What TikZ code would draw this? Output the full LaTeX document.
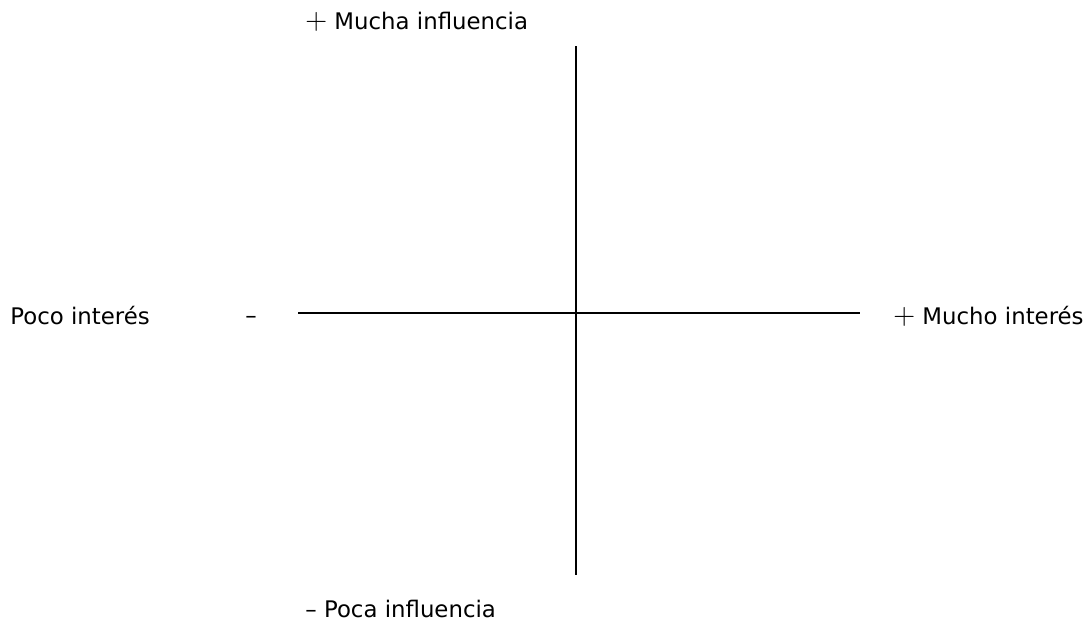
\documentclass[tikz,border=0pt]{standalone}
\usepackage{fontspec}
\setmainfont{DejaVu Sans}
\usepackage{tikz}
\usetikzlibrary{positioning}

\tikzset{etiq/.style={anchor=west,inner sep=0pt,font=\fontsize{13}{15}\selectfont}}
\newcommand{\mas}{{\fontsize{16}{16}\selectfont$+$}}

\begin{document}
\begin{tikzpicture}[x=0.02cm,y=-0.02cm]
		\useasboundingbox (0,0) rectangle (1086,622);
		% ejes
		\coordinate (arriba) at (576,46);
		\coordinate (abajo) at (576,575);
		\coordinate (izq) at (298,313);
		\coordinate (der) at (860,313);
		\draw[line width=0.9pt] (arriba) -- (abajo);
		\draw[line width=0.9pt] (izq) -- (der);

		\node[etiq] (mucha) at (305,22) {\mas\ Mucha influencia};
		\node[etiq] (poca) at (305,609) {– Poca influencia};
		\node[etiq] (pocoint) at (10,316) {Poco interés};
		\node[etiq] (menos) at (245,320) {–};
		\node[etiq] (muchoint) at (893,316) {\mas\ Mucho interés};
	\end{tikzpicture}
\end{document}
